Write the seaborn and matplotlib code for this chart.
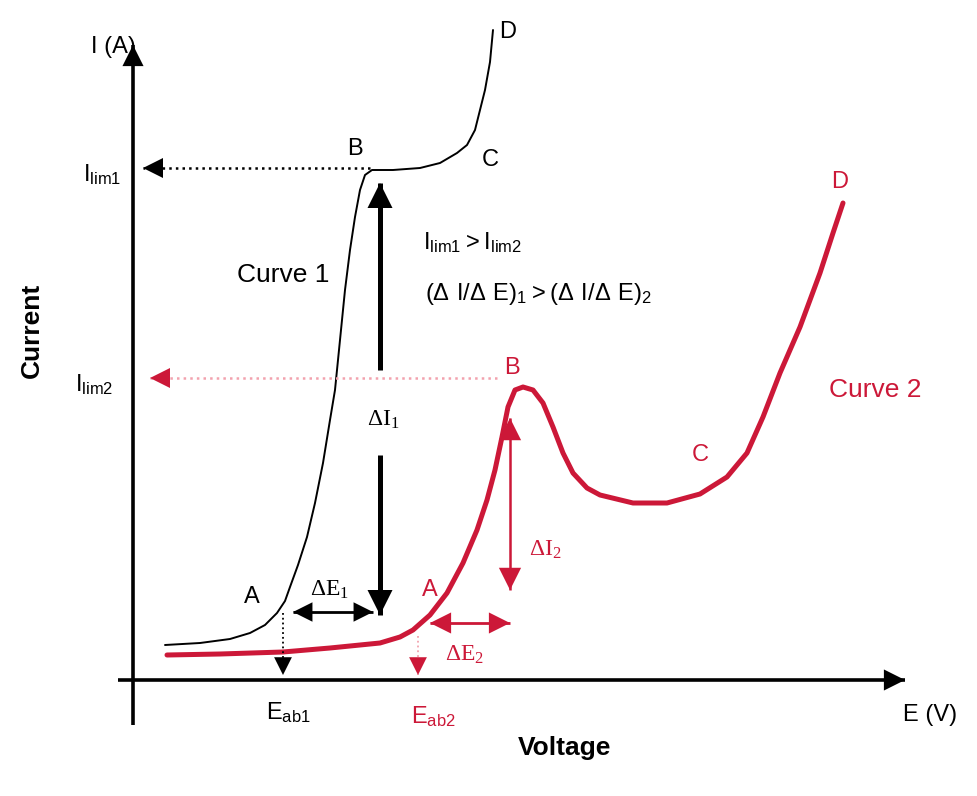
import seaborn as sns
import matplotlib.pyplot as plt

sns.set_theme(style="white")
plt.rcParams['font.family'] = ['Liberation Sans', 'DejaVu Sans']
plt.rcParams['text.color'] = 'black'
plt.rcParams['mathtext.fontset'] = 'custom'
plt.rcParams['mathtext.rm'] = 'Liberation Sans'

RED = '#cc1838'
PINK = '#f2a2ae'

# curve 1 (black): E vs I in arbitrary units
e1 = [32, 67, 97, 117, 132, 144, 152, 157, 165, 174, 182, 190, 197, 202, 207,
      212, 217, 222, 227, 232, 239, 260, 287, 307, 324, 334, 342, 347, 352, 357, 360]
i1 = [35, 37, 41, 47, 55, 67, 79, 93, 115, 143, 177, 217, 260, 290, 340,
      390, 430, 463, 490, 505, 510, 510, 512, 517, 527, 535, 550, 570, 590, 618, 650]

# curve 2 (red)
e2 = [34, 87, 150, 197, 247, 267, 280, 297, 314, 330, 344, 354, 362, 369, 375,
      382, 390, 400, 410, 420, 430, 440, 454, 467, 500, 534, 567, 594, 614, 630,
      647, 667, 687, 700, 710]
i2 = [25, 26, 28, 32, 37, 43, 50, 65, 87, 117, 150, 180, 210, 243, 273,
      290, 293, 290, 277, 253, 227, 207, 192, 185, 177, 177, 186, 203, 227, 263,
      307, 353, 407, 447, 477]

# characteristic values
i_lim1 = 512
i_lim2 = 302
e_ab1 = 150
e_ab2 = 285
e_b1 = 237
e_b2 = 364

fig = plt.figure(figsize=(9.77, 7.96), dpi=100)
ax = fig.add_axes([0, 0, 1, 1])
ax.set_xlim(-133, 844)
ax.set_ylim(-116, 680)
ax.axis('off')


def arrow(x0, y0, x1, y1, color='black', lw=2, ls='-', head=35, both=False, lcolor=None):
    # line drawn on its own so the head stays solid when the line is dotted
    lcolor = lcolor or color
    ax.plot([x0, x1], [y0, y1], color=lcolor, lw=lw, ls=ls, solid_capstyle='butt')
    props = dict(arrowstyle='-|>', color=color, lw=0, mutation_scale=head,
                 shrinkA=0, shrinkB=0)
    ax.annotate('', xy=(x1, y1), xytext=(x0, y0), arrowprops=props)
    if both:
        ax.annotate('', xy=(x0, y0), xytext=(x1, y1), arrowprops=props)


# axes
arrow(0, -45, 0, 635, lw=2.6, head=38)
arrow(-15, 0, 772, 0, lw=2.6, head=38)

# curves
sns.lineplot(x=e1, y=i1, sort=False, color='black', lw=1.4, ax=ax)
sns.lineplot(x=e2, y=i2, sort=False, color=RED, lw=3.6, ax=ax)

# limiting currents
arrow(e_b1, i_lim1, 10, i_lim1, lw=1.8, ls=':', head=36)
arrow(e_b2, i_lim2, 17, i_lim2, color=RED, lcolor=PINK, lw=1.8, ls=':', head=36)

# delta I1
arrow(247, 310, 247, 497, lw=3.6, head=45)
arrow(247, 225, 247, 65, lw=3.6, head=45)
# delta E1
arrow(160, 68, 240, 68, lw=2, head=35, both=True)
# E_ab1
arrow(e_ab1, 67, e_ab1, 5, lw=1.3, ls=':', head=32)

# red annotations
arrow(297, 57, 377, 57, color=RED, lw=2, head=38, both=True)
arrow(377, 90, 377, 262, color=RED, lw=1.8, head=40, both=True)
arrow(e_ab2, 44, e_ab2, 5, color=RED, lcolor=PINK, lw=1.3, ls=':', head=32)

fs = 17
ax.text(-20, 633, 'I (A)', fontsize=fs, ha='center', va='center')
ax.text(797, -35, 'E (V)', fontsize=fs, ha='center', va='center')
ax.text(-101, 350, 'Current', fontsize=19, fontweight='bold', rotation=90,
        ha='center', va='center')
ax.text(432, -68, 'Voltage', fontsize=19, fontweight='bold', ha='center', va='center')

ax.text(-50, 505, r'$\mathregular{I_{lim1}}$', fontsize=fs, ha='left', va='center')
ax.text(-58, 295, r'$\mathregular{I_{lim2}}$', fontsize=fs, ha='left', va='center')

ax.text(222, 531, 'B', fontsize=fs, ha='center', va='center')
ax.text(357, 520, 'C', fontsize=fs, ha='center', va='center')
ax.text(375, 648, 'D', fontsize=fs, ha='center', va='center')
ax.text(119, 83, 'A', fontsize=fs, ha='center', va='center')
ax.text(150, 405, 'Curve 1', fontsize=19, ha='center', va='center')

ax.text(290, 437, r'$\mathregular{I_{lim1} > I_{lim2}}$', fontsize=fs, ha='left', va='center')
ax.text(292, 386, r'$\mathregular{(Δ\ I/Δ\ E)_1 > (Δ\ I/Δ\ E)_2}$', fontsize=fs,
        ha='left', va='center')

ax.text(250, 260, r'$\mathregular{ΔI_1}$', fontsize=fs, family='Liberation Serif',
        ha='center', va='center')
ax.text(197, 90, r'$\mathregular{ΔE_1}$', fontsize=fs, family='Liberation Serif',
        ha='center', va='center')
ax.text(155, -33, r'$\mathregular{E_{ab1}}$', fontsize=fs, ha='center', va='center')

ax.text(379, 312, 'B', fontsize=fs, color=RED, ha='center', va='center')
ax.text(567, 225, 'C', fontsize=fs, color=RED, ha='center', va='center')
ax.text(707, 498, 'D', fontsize=fs, color=RED, ha='center', va='center')
ax.text(297, 90, 'A', fontsize=fs, color=RED, ha='center', va='center')
ax.text(742, 290, 'Curve 2', fontsize=19, color=RED, ha='center', va='center')
ax.text(412, 130, r'$\mathregular{ΔI_2}$', fontsize=fs, color=RED,
        family='Liberation Serif', ha='center', va='center')
ax.text(332, 25, r'$\mathregular{ΔE_2}$', fontsize=fs, color=RED,
        family='Liberation Serif', ha='center', va='center')
ax.text(300, -37, r'$\mathregular{E_{ab2}}$', fontsize=fs, color=RED, ha='center', va='center')

fig.savefig('out.png', dpi=100)
